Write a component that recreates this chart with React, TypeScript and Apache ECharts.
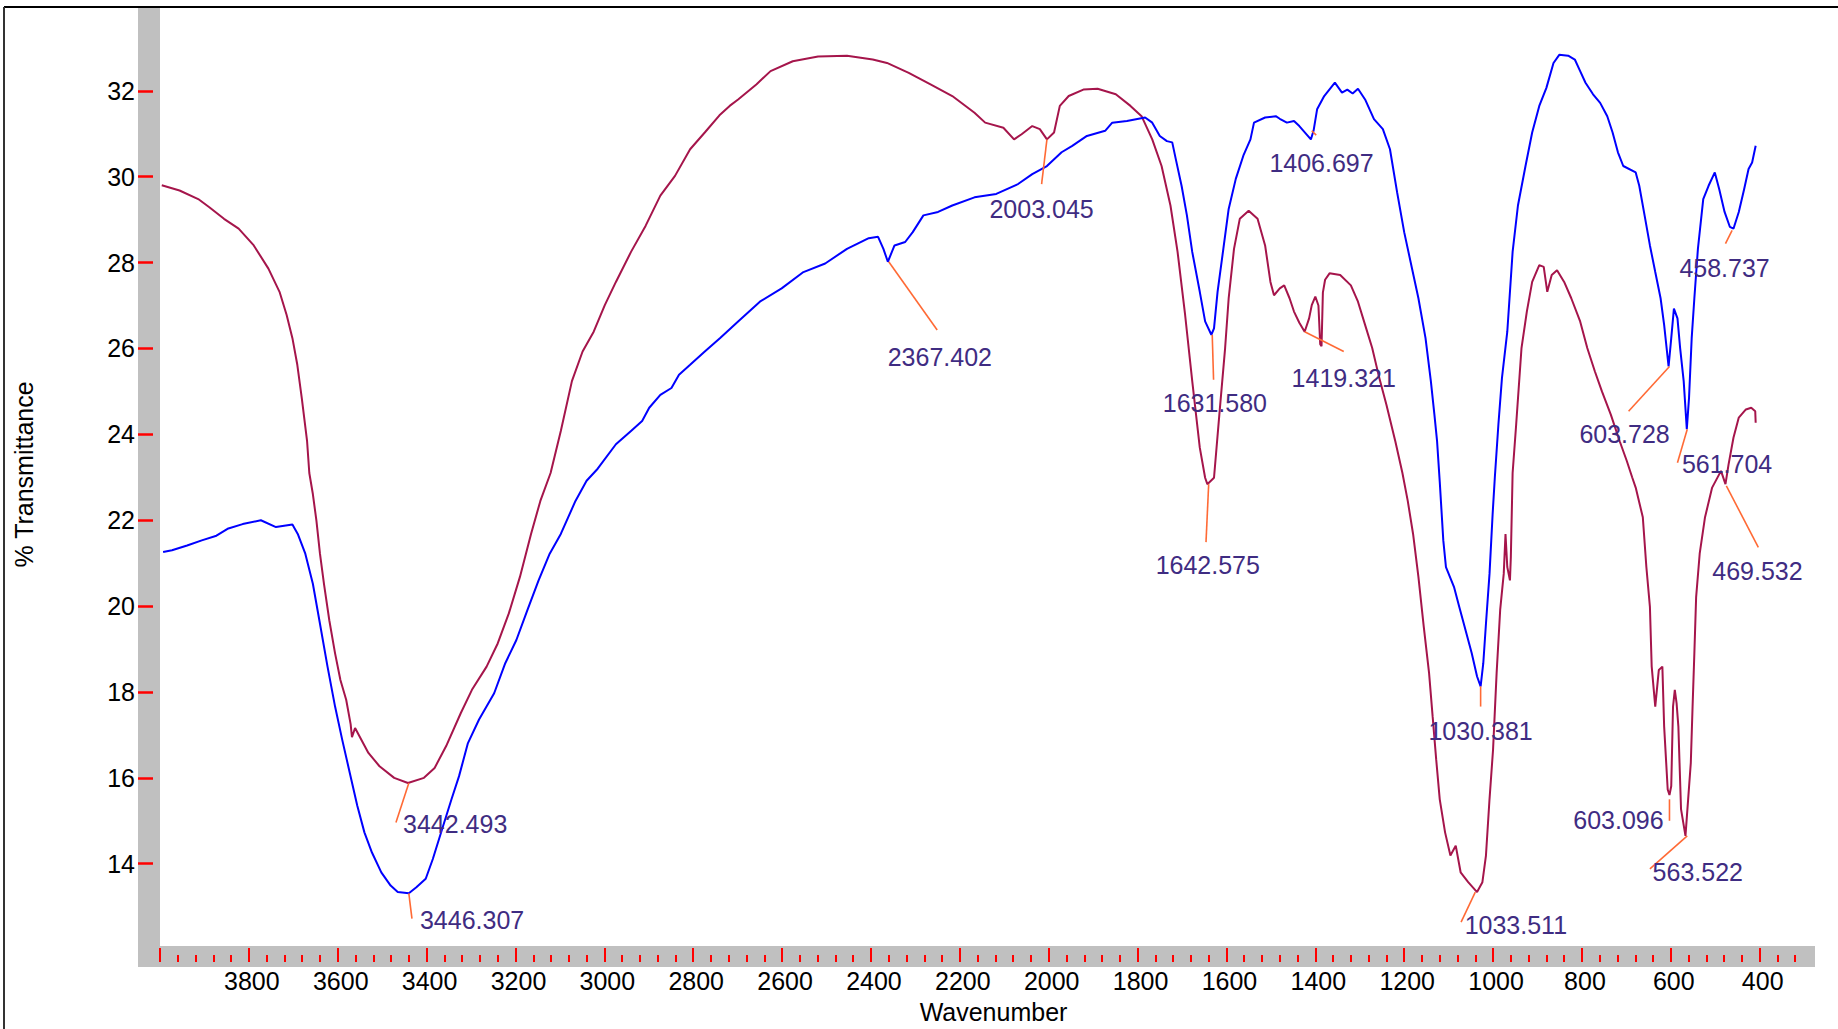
import React, { useEffect, useRef } from "react";
import * as echarts from "echarts";

// ---- tick values ----
const xMajorTicks = [400, 600, 800, 1000, 1200, 1400, 1600, 1800, 2000, 2200, 2400, 2600, 2800, 3000, 3200, 3400, 3600, 3800, 4000];
const xLabelValues = [400, 600, 800, 1000, 1200, 1400, 1600, 1800, 2000, 2200, 2400, 2600, 2800, 3000, 3200, 3400, 3600, 3800];
const yTicks = [14, 16, 18, 20, 22, 24, 26, 28, 30, 32];

// ---- spectrum 1 (maroon): [wavenumber, %T] ----
const maroonSpectrum: [number, number][] = [
  [3996, 29.8], [3956, 29.68], [3914, 29.48], [3889, 29.29], [3856, 29.02], [3823, 28.79], [3789, 28.4],
  [3756, 27.86], [3731, 27.32], [3715, 26.78], [3702, 26.24], [3691, 25.62], [3681, 24.85], [3669, 23.84],
  [3664, 23.1], [3656, 22.61], [3648, 21.99], [3640, 21.22], [3631, 20.52], [3619, 19.67], [3606, 18.9],
  [3594, 18.28], [3581, 17.82], [3571, 17.25], [3568, 16.95], [3561, 17.16], [3531, 16.58], [3506, 16.27],
  [3473, 16.0], [3442, 15.88], [3406, 16.0], [3382, 16.23], [3356, 16.74], [3323, 17.51], [3298, 18.05],
  [3265, 18.59], [3240, 19.13], [3215, 19.83], [3190, 20.68], [3165, 21.68], [3144, 22.45], [3121, 23.1],
  [3098, 24.08], [3073, 25.24], [3049, 25.93], [3024, 26.39], [2999, 27.01], [2974, 27.55], [2940, 28.25],
  [2907, 28.86], [2874, 29.56], [2841, 30.02], [2807, 30.64], [2774, 31.03], [2741, 31.43], [2718, 31.65],
  [2699, 31.8], [2658, 32.15], [2626, 32.46], [2576, 32.69], [2519, 32.8], [2454, 32.82], [2396, 32.73],
  [2364, 32.65], [2315, 32.42], [2266, 32.15], [2217, 31.88], [2167, 31.49], [2143, 31.26], [2102, 31.14],
  [2078, 30.87], [2061, 30.99], [2037, 31.18], [2020, 31.11], [2004, 30.87], [1988, 31.03], [1975, 31.65],
  [1955, 31.88], [1922, 32.03], [1890, 32.05], [1849, 31.92], [1816, 31.65], [1791, 31.41], [1767, 30.87],
  [1746, 30.25], [1726, 29.33], [1710, 28.25], [1693, 26.78], [1677, 25.24], [1660, 23.69], [1648, 22.99],
  [1643, 22.84], [1628, 22.99], [1616, 24.46], [1603, 26.01], [1595, 27.17], [1583, 28.32], [1570, 29.02],
  [1550, 29.21], [1530, 29.02], [1513, 28.4], [1501, 27.55], [1493, 27.24], [1480, 27.4], [1470, 27.47],
  [1458, 27.17], [1448, 26.86], [1436, 26.6], [1424, 26.39], [1414, 26.7], [1408, 27.01], [1400, 27.21],
  [1393, 27.0], [1389, 26.1], [1386, 26.05], [1383, 27.3], [1378, 27.6], [1368, 27.75], [1344, 27.71],
  [1320, 27.47], [1304, 27.09], [1288, 26.55], [1272, 26.01], [1256, 25.31], [1240, 24.69], [1220, 23.84],
  [1204, 23.1], [1192, 22.45], [1180, 21.68], [1168, 20.68], [1156, 19.52], [1144, 18.44], [1136, 17.43],
  [1128, 16.43], [1120, 15.5], [1108, 14.73], [1096, 14.19], [1084, 14.42], [1073, 13.8], [1056, 13.57],
  [1036, 13.34], [1024, 13.57], [1016, 14.19], [1008, 15.5], [1000, 16.66], [992, 18.44], [984, 19.91],
  [976, 20.75], [972, 21.68], [968, 20.91], [962, 20.6], [960, 21.14], [956, 23.1], [948, 24.23],
  [936, 26.01], [924, 26.86], [912, 27.55], [896, 27.94], [886, 27.9], [878, 27.32], [868, 27.71],
  [856, 27.82], [840, 27.55], [824, 27.17], [804, 26.63], [788, 26.01], [771, 25.47], [755, 25.0],
  [735, 24.46], [715, 23.84], [699, 23.38], [687, 23.0], [679, 22.76], [663, 22.07], [655, 20.91],
  [647, 19.98], [643, 18.59], [635, 17.66], [627, 18.51], [619, 18.59], [615, 17.2], [607, 15.73],
  [603, 15.6], [599, 15.81], [595, 17.66], [591, 18.05], [587, 17.74], [583, 17.2], [577, 15.27],
  [567, 14.65], [561, 15.5], [555, 16.35], [551, 17.66], [547, 18.9], [543, 20.21], [535, 21.22],
  [523, 22.07], [507, 22.76], [487, 23.15], [477, 22.84], [470, 23.3], [459, 23.92], [447, 24.39],
  [431, 24.58], [419, 24.62], [410, 24.54], [409, 24.27],
];

// ---- spectrum 2 (blue): [wavenumber, %T] ----
const blueSpectrum: [number, number][] = [
  [3993, 21.26], [3973, 21.3], [3939, 21.41], [3906, 21.53], [3873, 21.64], [3848, 21.8], [3814, 21.91],
  [3773, 22.0], [3739, 21.84], [3702, 21.9], [3690, 21.68], [3673, 21.22], [3656, 20.52], [3640, 19.59],
  [3623, 18.59], [3606, 17.66], [3590, 16.89], [3573, 16.12], [3556, 15.35], [3540, 14.73], [3523, 14.26],
  [3502, 13.8], [3481, 13.49], [3465, 13.34], [3440, 13.31], [3423, 13.45], [3402, 13.65], [3386, 14.11],
  [3365, 14.81], [3344, 15.5], [3327, 16.04], [3307, 16.81], [3282, 17.36], [3248, 17.97], [3223, 18.67],
  [3198, 19.21], [3173, 19.91], [3148, 20.6], [3123, 21.22], [3098, 21.68], [3065, 22.45], [3040, 22.92],
  [3015, 23.2], [2974, 23.77], [2940, 24.08], [2915, 24.31], [2899, 24.62], [2874, 24.92], [2849, 25.08],
  [2832, 25.39], [2807, 25.62], [2774, 25.93], [2740, 26.24], [2699, 26.63], [2650, 27.09], [2601, 27.4],
  [2552, 27.78], [2503, 27.98], [2454, 28.32], [2405, 28.57], [2384, 28.6], [2372, 28.32], [2362, 28.02],
  [2347, 28.4], [2323, 28.48], [2306, 28.71], [2282, 29.1], [2249, 29.18], [2217, 29.33], [2167, 29.52],
  [2118, 29.6], [2069, 29.83], [2037, 30.06], [2004, 30.25], [1971, 30.57], [1947, 30.72], [1914, 30.95],
  [1873, 31.07], [1857, 31.26], [1824, 31.3], [1783, 31.38], [1767, 31.26], [1750, 30.95], [1734, 30.83],
  [1722, 30.8], [1714, 30.41], [1701, 29.79], [1689, 29.1], [1677, 28.25], [1660, 27.32], [1648, 26.63],
  [1634, 26.32], [1628, 26.47], [1620, 27.32], [1607, 28.32], [1595, 29.25], [1579, 29.95], [1562, 30.49],
  [1546, 30.87], [1538, 31.26], [1513, 31.38], [1489, 31.41], [1480, 31.35], [1464, 31.26], [1448, 31.3],
  [1436, 31.18], [1410, 30.87], [1404, 31.07], [1396, 31.57], [1380, 31.88], [1356, 32.19], [1340, 31.96],
  [1328, 32.03], [1316, 31.94], [1304, 32.05], [1288, 31.8], [1268, 31.34], [1248, 31.11], [1232, 30.64],
  [1216, 29.64], [1200, 28.71], [1184, 27.94], [1168, 27.17], [1152, 26.24], [1140, 25.24], [1132, 24.46],
  [1126, 23.84], [1120, 22.9], [1112, 21.53], [1106, 20.91], [1088, 20.45], [1076, 19.98], [1064, 19.52],
  [1048, 18.9], [1036, 18.36], [1028, 18.13], [1022, 18.67], [1016, 19.59], [1008, 20.75], [1001, 22.14],
  [996, 23.0], [988, 24.23], [980, 25.31], [968, 26.39], [956, 28.25], [944, 29.33], [927, 30.25],
  [912, 31.03], [896, 31.65], [880, 32.07], [864, 32.65], [851, 32.84], [831, 32.82], [816, 32.73],
  [804, 32.46], [792, 32.19], [775, 31.92], [759, 31.72], [743, 31.41], [731, 31.03], [719, 30.57],
  [707, 30.25], [679, 30.1], [671, 29.79], [659, 29.1], [647, 28.4], [635, 27.78], [623, 27.17],
  [615, 26.55], [605, 25.58], [599, 26.24], [593, 26.93], [585, 26.7], [579, 26.01], [571, 25.24],
  [564, 24.12], [559, 24.85], [553, 26.24], [547, 27.17], [539, 28.32], [527, 29.48], [515, 29.79],
  [501, 30.1], [491, 29.71], [479, 29.18], [467, 28.83], [459, 28.79], [447, 29.18], [435, 29.71],
  [425, 30.18], [417, 30.33], [409, 30.72],
];

// ---- peak annotations: peak point, leader-line end, label anchor (all in data units) ----
const peakLabels = [
  { text: "3442.493", peak: [3440, 15.88], tip: [3469, 14.96], at: [3453, 14.93], align: "left" },
  { text: "3446.307", peak: [3440, 13.31], tip: [3433, 12.72], at: [3415, 12.68], align: "left" },
  { text: "2367.402", peak: [2360, 28.02], tip: [2251, 26.43], at: [2245, 25.79], align: "center" },
  { text: "2003.045", peak: [2004, 30.87], tip: [2016, 29.83], at: [2016, 29.25], align: "center" },
  { text: "1631.580", peak: [1632, 26.32], tip: [1629, 25.27], at: [1626, 24.73], align: "center" },
  { text: "1642.575", peak: [1640, 22.84], tip: [1646, 21.49], at: [1642, 20.95], align: "center" },
  { text: "1406.697", peak: [1408, 31.07], tip: [1398, 30.97], at: [1386, 30.33], align: "center" },
  { text: "1419.321", peak: [1424, 26.39], tip: [1336, 25.93], at: [1336, 25.31], align: "center" },
  { text: "1030.381", peak: [1028, 18.13], tip: [1028, 17.66], at: [1028, 17.08], align: "center" },
  { text: "1033.511", peak: [1040, 13.34], tip: [1072, 12.64], at: [1064, 12.57], align: "left" },
  { text: "603.728", peak: [603, 25.58], tip: [695, 24.54], at: [704, 24.0], align: "center" },
  { text: "561.704", peak: [563, 24.12], tip: [585, 23.34], at: [575, 23.3], align: "left" },
  { text: "458.737", peak: [462, 28.75], tip: [477, 28.44], at: [479, 27.88], align: "center" },
  { text: "469.532", peak: [475, 22.8], tip: [403, 21.37], at: [405, 20.82], align: "center" },
  { text: "603.096", peak: [603, 15.5], tip: [603, 15.0], at: [616, 15.02], align: "right" },
  { text: "563.522", peak: [563, 14.65], tip: [647, 13.88], at: [641, 13.8], align: "left" },
];

const FONT = '"Liberation Sans", Arial, sans-serif';
const W = 1838;
const H = 1029;
const GRID = { left: 160, right: 25, top: 8, bottom: 83 };
const BAND = 22;

function buildMinorTicks(): number[] {
  const out: number[] = [];
  for (let v = 320; v < 4000; v += 40) if (v % 200 !== 0) out.push(v);
  return out;
}

export default function App() {
  const ref = useRef<HTMLDivElement>(null);
  useEffect(() => {
    if (!ref.current) return;
    const chart = echarts.init(ref.current, null, { renderer: "svg" });
    const plotBottom = H - GRID.bottom;
    const option: any = {
      animation: false,
      backgroundColor: "#ffffff",
      grid: { ...GRID },
      xAxis: [
        {
          type: "value", inverse: true, min: 280, max: 4000, position: "bottom", offset: 21, z: 5,
          axisLine: { show: false }, splitLine: { show: false },
          axisTick: { show: true, inside: true, length: 14, customValues: xMajorTicks, lineStyle: { color: "#ff0000", width: 2 } },
          axisLabel: {
            show: true, customValues: xLabelValues, margin: 6, fontSize: 25, fontFamily: FONT, color: "#000",
            padding: [0, 0, 0, 6], formatter: (v: number) => String(v),
          },
          name: "Wavenumber", nameLocation: "middle", nameGap: 37,
          nameTextStyle: { fontSize: 25, fontFamily: FONT, color: "#000", padding: [0, 0, 0, 14] },
        },
        {
          type: "value", inverse: true, min: 280, max: 4000, position: "bottom", offset: 21, z: 5,
          axisLine: { show: false }, splitLine: { show: false }, axisLabel: { show: false },
          axisTick: { show: true, inside: true, length: 7, customValues: buildMinorTicks(), lineStyle: { color: "#ff0000", width: 2 } },
        },
      ],
      yAxis: {
        type: "value", min: 12.2, max: 33.93, position: "left", offset: BAND, z: 5,
        axisLine: { show: false }, splitLine: { show: false },
        axisTick: { show: true, inside: true, length: 15, customValues: yTicks, lineStyle: { color: "#ff0000", width: 2.5 } },
        axisLabel: { show: true, customValues: yTicks, margin: 3, fontSize: 25, fontFamily: FONT, color: "#000", formatter: (v: number) => String(v) },
        name: "% Transmittance", nameLocation: "middle", nameRotate: 90, nameGap: 102,
        nameTextStyle: { fontSize: 25, fontFamily: FONT, color: "#000" },
      },
      graphic: [
        { type: "rect", z: 1, shape: { x: GRID.left - BAND, y: GRID.top, width: BAND, height: plotBottom + 21 - GRID.top }, style: { fill: "#c0c0c0" } },
        { type: "rect", z: 1, shape: { x: GRID.left - BAND, y: plotBottom, width: W - GRID.right - (GRID.left - BAND) + 2, height: 21 }, style: { fill: "#c0c0c0" } },
        { type: "line", z: 1, shape: { x1: 4, y1: 7, x2: W, y2: 7 }, style: { stroke: "#000", lineWidth: 2 } },
        { type: "line", z: 1, shape: { x1: 4, y1: 7, x2: 4, y2: H }, style: { stroke: "#333", lineWidth: 2 } },
      ],
      series: [
        {
          type: "line", name: "sample A", data: maroonSpectrum, showSymbol: false, symbol: "none", z: 2,
          lineStyle: { color: "#a5154b", width: 2 }, itemStyle: { color: "#a5154b" },
        },
        {
          type: "line", name: "sample B", data: blueSpectrum, showSymbol: false, symbol: "none", z: 3,
          lineStyle: { color: "#0000ff", width: 2 }, itemStyle: { color: "#0000ff" },
        },
        {
          type: "custom", z: 4, clip: false, silent: true,
          data: peakLabels.map((p) => [p.peak[0], p.peak[1], p.tip[0], p.tip[1], p.at[0], p.at[1]]),
          encode: { x: [0, 2, 4], y: [1, 3, 5] },
          renderItem: (params: any, api: any) => {
            const p = peakLabels[params.dataIndex];
            const a = api.coord([api.value(0), api.value(1)]);
            const b = api.coord([api.value(2), api.value(3)]);
            const c = api.coord([api.value(4), api.value(5)]);
            return {
              type: "group",
              children: [
                { type: "line", shape: { x1: a[0], y1: a[1], x2: b[0], y2: b[1] }, style: { stroke: "#ff6a35", lineWidth: 1.6 } },
                {
                  type: "text",
                  style: { text: p.text, x: c[0], y: c[1], align: p.align, verticalAlign: "middle", fill: "#3f2c82", font: `25px ${FONT}` },
                },
              ],
            };
          },
        },
      ],
    };
    chart.setOption(option);
    return () => chart.dispose();
  }, []);
  return <div ref={ref} style={{ position: "fixed", left: 0, top: 0, width: W, height: H, background: "#fff" }} />;
}
